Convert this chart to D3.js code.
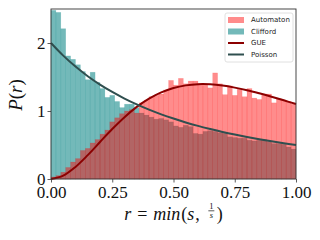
<!DOCTYPE html>
<html>
<head>
<meta charset="utf-8">
<script src="https://cdn.jsdelivr.net/npm/d3@7"></script>
<style>
  html, body { margin: 0; padding: 0; background: #fff; }
  svg { display: block; }
</style>
</head>
<body>
<svg id="chart"></svg>
<script>
// histogram bins of width 0.02 on [0, 1]
const binWidth = 0.02;
const clifford = [
  2.48, 2.45, 2.21, 1.81, 1.76, 1.68, 1.58, 1.46, 1.57, 1.42,
  1.33, 1.20, 1.23, 1.14, 1.05, 1.10, 1.10, 1.05, 0.97, 0.94,
  0.91, 0.88, 0.89, 0.87, 0.84, 0.78, 0.76, 0.79, 0.77, 0.67,
  0.66, 0.70, 0.71, 0.70, 0.68, 0.67, 0.62, 0.61, 0.60, 0.60,
  0.57, 0.56, 0.57, 0.58, 0.55, 0.52, 0.52, 0.51, 0.47, 0.44
];
const automaton = [
  0.03, 0.05, 0.10, 0.17, 0.25, 0.30, 0.42, 0.45, 0.53, 0.58,
  0.66, 0.72, 0.84, 0.90, 0.96, 1.00, 1.02, 0.97, 1.12, 1.16,
  1.21, 1.23, 1.25, 1.31, 1.45, 1.38, 1.48, 1.40, 1.44, 1.44,
  1.40, 1.38, 1.34, 1.56, 1.40, 1.24, 1.37, 1.23, 1.32, 1.21,
  1.33, 1.19, 1.17, 1.25, 1.25, 1.12, 1.18, 1.16, 1.14, 1.10
];

// curves read at r = 0, 0.05, ... 1
const rPoints = [0, 0.05, 0.1, 0.15, 0.2, 0.25, 0.3, 0.35, 0.4, 0.45, 0.5,
  0.55, 0.6, 0.65, 0.7, 0.75, 0.8, 0.85, 0.9, 0.95, 1.0];
const gue = [0, 0.05, 0.178, 0.351, 0.544, 0.735, 0.909, 1.06, 1.182, 1.274, 1.339,
  1.377, 1.394, 1.392, 1.374, 1.344, 1.306, 1.26, 1.21, 1.157, 1.102];
const poisson = [2, 1.814, 1.653, 1.512, 1.389, 1.28, 1.183, 1.097, 1.02, 0.951, 0.889,
  0.832, 0.781, 0.735, 0.692, 0.653, 0.617, 0.584, 0.554, 0.526, 0.5];

const xTicks = [0, 0.25, 0.5, 0.75, 1];
const yTicks = [0, 1, 2];
const legendItems = [
  { name: "Automaton", type: "patch", color: "#ff0000", opacity: 0.45 },
  { name: "Clifford", type: "patch", color: "#008080", opacity: 0.55 },
  { name: "GUE", type: "line", color: "#8b0000" },
  { name: "Poisson", type: "line", color: "#2f4f4f" }
];

const width = 320, height = 240;
const margin = { top: 9, right: 24, bottom: 61, left: 51 };
const serif = "'Liberation Serif', 'DejaVu Serif', serif";

const svg = d3.select("#chart").attr("width", width).attr("height", height);

const x = d3.scaleLinear().domain([0, 1]).range([margin.left, width - margin.right]);
const y = d3.scaleLinear().domain([0, 2.5]).range([height - margin.bottom, margin.top]);

// bars: Clifford underneath, Automaton on top
function drawBars(values, color, opacity) {
  svg.append("g")
    .selectAll("rect")
    .data(values)
    .join("rect")
    .attr("x", (d, i) => x(i * binWidth))
    .attr("y", d => y(d))
    .attr("width", x(binWidth) - x(0))
    .attr("height", d => y(0) - y(d))
    .attr("fill", color)
    .attr("fill-opacity", opacity)
    .attr("stroke", color)
    .attr("stroke-opacity", opacity * 0.35)
    .attr("stroke-width", 0.6);
}
drawBars(clifford, "#008080", 0.55);
drawBars(automaton, "#ff0000", 0.45);

// theory curves
const line = d3.line()
  .x((d, i) => x(rPoints[i]))
  .y(d => y(d))
  .curve(d3.curveCatmullRom);

svg.append("path").datum(gue)
  .attr("d", line).attr("fill", "none")
  .attr("stroke", "#8b0000").attr("stroke-width", 2);
svg.append("path").datum(poisson)
  .attr("d", line).attr("fill", "none")
  .attr("stroke", "#2f4f4f").attr("stroke-width", 2);

// axes
const xAxis = svg.append("g")
  .attr("transform", "translate(0," + y(0) + ")")
  .call(d3.axisBottom(x).tickValues(xTicks).tickFormat(d3.format(".2f")).tickSize(3.5).tickPadding(3));
const yAxis = svg.append("g")
  .attr("transform", "translate(" + x(0) + ",0)")
  .call(d3.axisLeft(y).tickValues(yTicks).tickFormat(d3.format("d")).tickSize(3.5).tickPadding(2));

[xAxis, yAxis].forEach(g => {
  g.select(".domain").remove();
  g.selectAll("line").attr("stroke", "#333").attr("stroke-width", 0.8);
  g.selectAll("text").attr("font-family", serif).attr("font-size", 17).attr("fill", "#111");
});
yAxis.selectAll("text").attr("dy", "0.3em");

// frame
svg.append("rect")
  .attr("x", x(0)).attr("y", y(2.5))
  .attr("width", x(1) - x(0)).attr("height", y(0) - y(2.5))
  .attr("fill", "none").attr("stroke", "#333").attr("stroke-width", 0.9);

// legend
const lg = svg.append("g").attr("transform", "translate(225,13)");
lg.append("rect")
  .attr("width", 68).attr("height", 49).attr("rx", 2)
  .attr("fill", "#fff").attr("fill-opacity", 0.85)
  .attr("stroke", "#d8d8d8").attr("stroke-width", 0.8);
legendItems.forEach((d, i) => {
  const cy = 7 + i * 11.5;
  if (d.type === "patch") {
    lg.append("rect").attr("x", 3).attr("y", cy - 3).attr("width", 16).attr("height", 6)
      .attr("fill", d.color).attr("fill-opacity", d.opacity);
  } else {
    lg.append("line").attr("x1", 3).attr("x2", 19).attr("y1", cy).attr("y2", cy)
      .attr("stroke", d.color).attr("stroke-width", 2);
  }
  lg.append("text").attr("x", 26).attr("y", cy).attr("dy", "0.35em")
    .attr("font-family", "'DejaVu Sans', sans-serif").attr("font-size", 7)
    .attr("fill", "#222").text(d.name);
});

// y label P(r)
const yl = svg.append("text")
  .attr("transform", "translate(22," + ((y(0) + y(2.5)) / 2 + 1) + ") rotate(-90)")
  .attr("text-anchor", "middle")
  .attr("font-family", serif).attr("font-size", 19).attr("fill", "#111");
yl.append("tspan").attr("font-style", "italic").text("P");
yl.append("tspan").text("(");
yl.append("tspan").attr("font-style", "italic").text("r");
yl.append("tspan").text(")");

// x label r = min(s, 1/s)
const xl = svg.append("g");
const xt = xl.append("text").attr("x", 0).attr("y", 220)
  .attr("font-family", serif).attr("font-size", 18).attr("fill", "#111");
xt.append("tspan").attr("font-style", "italic").text("r");
xt.append("tspan").attr("dx", 6).text("=");
xt.append("tspan").attr("dx", 6).attr("font-style", "italic").text("min");
xt.append("tspan").attr("dx", 1).text("(");
xt.append("tspan").attr("font-style", "italic").text("s");
xt.append("tspan").attr("dx", 1).text(",");
const tb = xt.node().getBBox();
const w0 = tb.x + tb.width + 8;
const fr = xl.append("g").attr("transform", "translate(" + w0 + ",0)");
fr.append("text").attr("x", 3.5).attr("y", 208.5).attr("text-anchor", "middle")
  .attr("font-family", serif).attr("font-size", 8.5).attr("fill", "#111").text("1");
fr.append("line").attr("x1", 0.5).attr("x2", 6.5).attr("y1", 210.8).attr("y2", 210.8)
  .attr("stroke", "#111").attr("stroke-width", 0.7);
fr.append("text").attr("x", 3.5).attr("y", 217.5).attr("text-anchor", "middle")
  .attr("font-family", serif).attr("font-style", "italic").attr("font-size", 8.5)
  .attr("fill", "#111").text("s");
xl.append("text").attr("x", w0 + 9).attr("y", 220)
  .attr("font-family", serif).attr("font-size", 18).attr("fill", "#111").text(")");
const bb = xl.node().getBBox();
xl.attr("transform", "translate(" + (173.5 - bb.x - bb.width / 2) + ",0)");
</script>
</body>
</html>
